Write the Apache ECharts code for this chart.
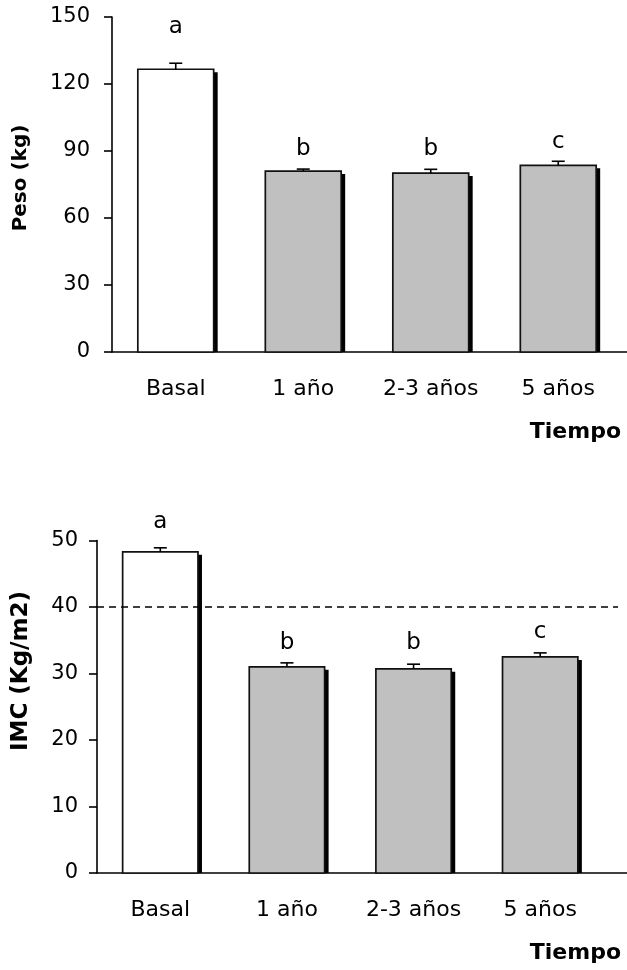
<!DOCTYPE html>
<html><head><meta charset="utf-8">
<script src="https://cdn.jsdelivr.net/npm/echarts@6/dist/echarts.min.js"></script>
<style>html,body{margin:0;padding:0;background:#fff}#c{width:627px;height:970px}</style>
</head><body><div id="c"></div>
<script>
// ---- data ----
const categories = ['Basal', '1 año', '2-3 años', '5 años'];
const pesoValues = [126.6, 81.0, 80.1, 83.6];
const pesoSE = [2.7, 0.9, 1.7, 1.8];
const pesoLetters = ['a', 'b', 'b', 'c'];
const pesoLetterPos = [145.7, 90.9, 90.9, 93.8];
const pesoAxis = [0, 150, 30];           // min, max, interval
const imcValues = [48.3, 31.0, 30.7, 32.5];
const imcSE = [0.6, 0.6, 0.7, 0.6];
const imcLetters = ['a', 'b', 'b', 'c'];
const imcLetterPos = [52.8, 34.6, 34.6, 36.2];
const imcAxis = [0, 50, 10];
const imcThreshold = 40;

// ---- styles ----
const FONT = '"DejaVu Sans", sans-serif';
const BLACK = '#000';
const fills = ['#ffffff', '#c0c0c0', '#c0c0c0', '#c0c0c0'];

function barRender(letters) {
  return function (params, api) {
    const i = params.dataIndex;
    const c = api.value(0), v = api.value(1), se = api.value(2), lpv = api.value(3);
    const base = api.coord([c, 0]);
    const top = api.coord([c, v]);
    const err = api.coord([c, v + se]);
    const lp = api.coord([c, lpv]);
    const w = api.size([1, 0])[0] * 0.595;
    const x0 = base[0] - w / 2;
    const h = base[1] - top[1];
    return {
      type: 'group',
      children: [
        { type: 'rect', shape: { x: x0 + w, y: top[1] + 3, width: 4, height: h - 3 }, style: { fill: BLACK } },
        { type: 'rect', shape: { x: x0, y: top[1], width: w, height: h }, style: { fill: fills[i], stroke: '#111', lineWidth: 1.7 } },
        { type: 'line', shape: { x1: base[0], y1: top[1], x2: base[0], y2: err[1] }, style: { stroke: BLACK, lineWidth: 1.6 } },
        { type: 'line', shape: { x1: base[0] - 6.5, y1: err[1], x2: base[0] + 6.5, y2: err[1] }, style: { stroke: BLACK, lineWidth: 1.6 } },
        { type: 'text', x: lp[0], y: lp[1], style: { text: letters[i], fontFamily: FONT, fontSize: 23, fill: BLACK, align: 'center', verticalAlign: 'middle' } }
      ]
    };
  };
}

function catAxis(gridIndex, margin) {
  return {
    type: 'category', gridIndex, data: categories,
    axisLine: { show: false }, axisTick: { show: false },
    axisLabel: { color: BLACK, fontFamily: FONT, fontSize: 22, margin }
  };
}
function lineAxis(gridIndex) {
  return {
    type: 'value', gridIndex, min: 0, max: 1,
    axisLine: { show: true, onZero: false, lineStyle: { color: BLACK, width: 1.6 } },
    axisTick: { show: false }, axisLabel: { show: false }, splitLine: { show: false }
  };
}
function valAxis(gridIndex, ax, margin, show) {
  return {
    type: 'value', gridIndex, min: ax[0], max: ax[1], interval: ax[2], show,
    axisLine: { show: true, lineStyle: { color: BLACK, width: 1.6 } },
    axisTick: { show: true, inside: false, length: 8, lineStyle: { color: BLACK, width: 1.6 } },
    axisLabel: { color: BLACK, fontFamily: FONT, fontSize: 21, margin },
    splitLine: { show: false }
  };
}

const chart = echarts.init(document.getElementById('c'), null, { renderer: 'canvas' });
chart.setOption({
  animation: false,
  backgroundColor: '#fff',
  grid: [
    { left: 112, right: 5, top: 17, bottom: 618 },
    { left: 112, right: 0, top: 17, bottom: 618 },
    { left: 97, right: 23.5, top: 540.5, bottom: 97 },
    { left: 97, right: 0, top: 540.5, bottom: 97 },
    { left: 97, right: 9, top: 540.5, bottom: 97 }
  ],
  xAxis: [catAxis(0, 26), lineAxis(1), catAxis(2, 26), lineAxis(3),
          { type: 'value', gridIndex: 4, min: 0, max: 1, show: false }],
  yAxis: [valAxis(0, pesoAxis, 22, true), valAxis(1, pesoAxis, 22, false),
          valAxis(2, imcAxis, 19, true), valAxis(3, imcAxis, 19, false),
          valAxis(4, imcAxis, 19, false)],
  graphic: [
    { type: 'text', x: 21, y: 178, rotation: Math.PI / 2,
      style: { text: 'Peso (kg)', fontFamily: FONT, fontWeight: 'bold', fontSize: 20, fill: BLACK, align: 'center', verticalAlign: 'middle' } },
    { type: 'text', x: 21, y: 671, rotation: Math.PI / 2,
      style: { text: 'IMC (Kg/m2)', fontFamily: FONT, fontWeight: 'bold', fontSize: 23, fill: BLACK, align: 'center', verticalAlign: 'middle' } },
    { type: 'text', x: 621, y: 432,
      style: { text: 'Tiempo', fontFamily: FONT, fontWeight: 'bold', fontSize: 22, fill: BLACK, align: 'right', verticalAlign: 'middle' } },
    { type: 'text', x: 621, y: 953,
      style: { text: 'Tiempo', fontFamily: FONT, fontWeight: 'bold', fontSize: 22, fill: BLACK, align: 'right', verticalAlign: 'middle' } }
  ],
  series: [
    { type: 'custom', xAxisIndex: 0, yAxisIndex: 0, renderItem: barRender(pesoLetters),
      encode: { x: 0, y: 1 }, clip: false,
      data: pesoValues.map((v, i) => [i, v, pesoSE[i], pesoLetterPos[i]]) },
    { type: 'custom', xAxisIndex: 2, yAxisIndex: 2, renderItem: barRender(imcLetters),
      encode: { x: 0, y: 1 }, clip: false, z: 2,
      data: imcValues.map((v, i) => [i, v, imcSE[i], imcLetterPos[i]]) },
    { type: 'line', xAxisIndex: 4, yAxisIndex: 4, z: 5, symbol: 'none', silent: true,
      lineStyle: { color: BLACK, width: 1.5, type: [7, 5] },
      data: [[0, imcThreshold], [1, imcThreshold]] }
  ]
});
</script></body></html>
